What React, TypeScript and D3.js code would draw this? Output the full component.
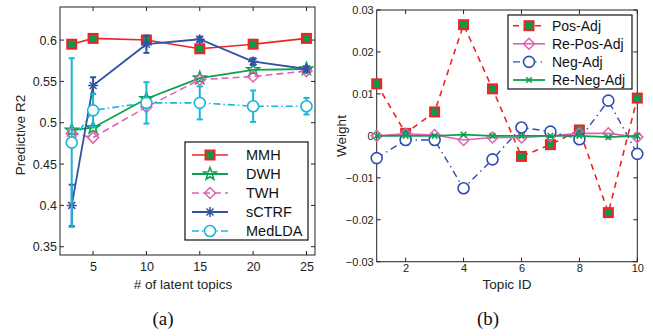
import { useEffect, useRef } from "react";
import * as d3 from "d3";

// (a) predictive R2 vs number of latent topics
const numTopics = [3, 5, 10, 15, 20, 25];
const mmhR2 = [0.595, 0.602, 0.6, 0.5895, 0.595, 0.602];
const dwhR2 = [0.491, 0.494, 0.529, 0.554, 0.564, 0.565];
const twhR2 = [0.487, 0.482, 0.519, 0.552, 0.556, 0.5625];
const sctrfR2 = [0.4, 0.545, 0.595, 0.601, 0.574, 0.565];
const sctrfErr = [0.025, 0.01, 0.0105, 0.003, 0.004, 0.003];
const medldaR2 = [0.476, 0.515, 0.524, 0.524, 0.52, 0.52];
const medldaErr = [0.102, 0.02, 0.025, 0.02, 0.019, 0.01];
const leftXTicks = [5, 10, 15, 20, 25];
const leftYTicks = [0.35, 0.4, 0.45, 0.5, 0.55, 0.6];

// (b) weights per topic
const topicIds = [1, 2, 3, 4, 5, 6, 7, 8, 9, 10];
const posAdj = [0.0124, 0.0006, 0.0057, 0.0265, 0.0112, -0.0049, -0.0021, 0.0014, -0.0183, 0.009];
const rePosAdj = [0, 0.0005, 0.0002, -0.001, -0.0004, -0.0004, 0, 0.0006, 0.0006, -0.0003];
const negAdj = [-0.0053, -0.001, -0.001, -0.0125, -0.0056, 0.002, 0.001, -0.0008, 0.0084, -0.0043];
const reNegAdj = [0, 0, 0, 0.0003, 0, 0, 0, 0, -0.0003, 0];
const rightXTicks = [2, 4, 6, 8, 10];
const rightYTicks = [-0.03, -0.02, -0.01, 0, 0.01, 0.02, 0.03];

const RED = "#ee2424";
const GREENFILL = "#0b9a4c";
const GREEN = "#0aa24c";
const PINK = "#e060b4";
const BLUE = "#3452a4";
const CYAN = "#1ab6d8";
const NAVY = "#2f4fb0";
const FONT = "'Liberation Sans', Arial, Helvetica, sans-serif";

const starPath = (r) => {
  const pts = [];
  for (let i = 0; i < 10; i++) {
    const a = -Math.PI / 2 + (i * Math.PI) / 5;
    const rr = i % 2 === 0 ? r : r * 0.42;
    pts.push([rr * Math.cos(a), rr * Math.sin(a)]);
  }
  return "M" + pts.map((p) => p.join(",")).join("L") + "Z";
};

const asteriskPath = (r) => {
  const d = r * 0.7;
  return `M${-r},0L${r},0M0,${-r}L0,${r}M${-d},${-d}L${d},${d}M${-d},${d}L${d},${-d}`;
};

const crossPath = (r) => `M${-r},${-r}L${r},${r}M${-r},${r}L${r},${-r}`;

function marker(g, type, x, y, color) {
  if (type === "square") {
    g.append("rect").attr("x", x - 4.5).attr("y", y - 4.5).attr("width", 9).attr("height", 9)
      .attr("fill", GREENFILL).attr("stroke", color).attr("stroke-width", 2);
  } else if (type === "star") {
    g.append("path").attr("d", starPath(6.5)).attr("transform", `translate(${x},${y})`)
      .attr("fill", "none").attr("stroke", color).attr("stroke-width", 1.6);
  } else if (type === "diamond") {
    g.append("path").attr("d", "M0,-5.5L5.5,0L0,5.5L-5.5,0Z").attr("transform", `translate(${x},${y})`)
      .attr("fill", "none").attr("stroke", color).attr("stroke-width", 1.5);
  } else if (type === "asterisk") {
    g.append("path").attr("d", asteriskPath(5)).attr("transform", `translate(${x},${y})`)
      .attr("fill", "none").attr("stroke", color).attr("stroke-width", 1.5);
  } else if (type === "circle") {
    g.append("circle").attr("cx", x).attr("cy", y).attr("r", 5.5)
      .attr("fill", "white").attr("stroke", color).attr("stroke-width", 1.6);
  } else if (type === "cross") {
    g.append("path").attr("d", crossPath(2.8)).attr("transform", `translate(${x},${y})`)
      .attr("fill", "none").attr("stroke", color).attr("stroke-width", 1.6);
  }
}

function frame(svg, x, y, xTicks, yTicks, yFmt, xPad) {
  const [x0, x1] = x.range();
  const [y0, y1] = y.range();
  const g = svg.append("g");
  g.append("rect").attr("x", x0).attr("y", y1).attr("width", x1 - x0).attr("height", y0 - y1)
    .attr("fill", "none").attr("stroke", "#222").attr("stroke-width", 1);
  xTicks.forEach((t) => {
    g.append("line").attr("x1", x(t)).attr("x2", x(t)).attr("y1", y0).attr("y2", y0 - 4).attr("stroke", "#222");
    g.append("line").attr("x1", x(t)).attr("x2", x(t)).attr("y1", y1).attr("y2", y1 + 4).attr("stroke", "#222");
  });
  yTicks.forEach((t) => {
    g.append("line").attr("x1", x0).attr("x2", x0 + 4).attr("y1", y(t)).attr("y2", y(t)).attr("stroke", "#222");
    g.append("line").attr("x1", x1).attr("x2", x1 - 4).attr("y1", y(t)).attr("y2", y(t)).attr("stroke", "#222");
  });
  const bottom = svg.append("g").attr("transform", `translate(0,${y0})`)
    .call(d3.axisBottom(x).tickValues(xTicks).tickSize(0).tickPadding(xPad).tickFormat(d3.format("d")));
  const left = svg.append("g").attr("transform", `translate(${x0},0)`)
    .call(d3.axisLeft(y).tickValues(yTicks).tickSize(0).tickPadding(3).tickFormat(yFmt));
  [bottom, left].forEach((a) => {
    a.select(".domain").remove();
    a.selectAll("text").attr("font-family", FONT).attr("fill", "#222");
  });
  return { bottom, left };
}

function series(svg, x, y, xs, ys, color, dash, width) {
  const line = d3.line().x((d) => x(d[0])).y((d) => y(d[1]));
  svg.append("path").attr("d", line(xs.map((v, i) => [v, ys[i]])))
    .attr("fill", "none").attr("stroke", color).attr("stroke-width", width)
    .attr("stroke-dasharray", dash);
}

function errorBars(svg, x, y, xs, ys, es, color) {
  xs.forEach((v, i) => {
    const cx = x(v);
    const lo = y(ys[i] - es[i]);
    const hi = y(ys[i] + es[i]);
    svg.append("line").attr("x1", cx).attr("x2", cx).attr("y1", lo).attr("y2", hi)
      .attr("stroke", color).attr("stroke-width", 2);
    [lo, hi].forEach((yy) => {
      svg.append("line").attr("x1", cx - 3).attr("x2", cx + 3).attr("y1", yy).attr("y2", yy)
        .attr("stroke", color).attr("stroke-width", 2);
    });
  });
}

function legend(svg, box, rows, fontSize) {
  svg.append("rect").attr("x", box.x).attr("y", box.y).attr("width", box.w).attr("height", box.h)
    .attr("fill", "white").attr("stroke", "#111").attr("stroke-width", 1.2);
  rows.forEach((r, i) => {
    const yy = box.y + box.first + i * box.step;
    svg.append("line").attr("x1", box.x + box.lx0).attr("x2", box.x + box.lx1).attr("y1", yy).attr("y2", yy)
      .attr("stroke", r.color).attr("stroke-width", r.width).attr("stroke-dasharray", r.dash);
    marker(svg, r.marker, box.x + (box.lx0 + box.lx1) / 2, yy, r.color);
    svg.append("text").attr("x", box.x + box.tx).attr("y", yy + fontSize * 0.36)
      .attr("font-family", FONT).attr("font-size", fontSize).attr("fill", "#111").text(r.name);
  });
}

const App = () => {
  const svgRef = useRef(null);

  useEffect(() => {
    const svg = d3.select(svgRef.current);
    svg.selectAll("*").remove();

    // ---------- (a) ----------
    const xa = d3.scaleLinear().domain([1.9, 25.8]).range([60, 315]);
    const ya = d3.scaleLinear().domain([0.34, 0.64]).range([255, 7]);
    const fa = frame(svg, xa, ya, leftXTicks, leftYTicks, d3.format(""), 7);
    fa.bottom.selectAll("text").attr("font-size", 12.5);
    fa.left.selectAll("text").attr("font-size", 12.5);

    const ga = svg.append("g");
    const defs = [
      { name: "MMH", ys: mmhR2, color: RED, dash: null, width: 1.6, marker: "square" },
      { name: "DWH", ys: dwhR2, color: GREEN, dash: null, width: 1.8, marker: "star" },
      { name: "TWH", ys: twhR2, color: PINK, dash: "7,4", width: 1.6, marker: "diamond" },
      { name: "sCTRF", ys: sctrfR2, color: BLUE, dash: null, width: 1.8, marker: "asterisk" },
      { name: "MedLDA", ys: medldaR2, color: CYAN, dash: "7,3,1.5,3", width: 1.6, marker: "circle" },
    ];
    defs.forEach((s) => {
      series(ga, xa, ya, numTopics, s.ys, s.color, s.dash, s.width);
      if (s.name === "sCTRF") errorBars(ga, xa, ya, numTopics, sctrfR2, sctrfErr, BLUE);
      if (s.name === "MedLDA") errorBars(ga, xa, ya, numTopics, medldaR2, medldaErr, CYAN);
      numTopics.forEach((t, i) => marker(ga, s.marker, xa(t), ya(s.ys[i]), s.color));
    });

    legend(svg, { x: 185, y: 142, w: 123, h: 98, first: 13, step: 19, lx0: 7, lx1: 43, tx: 61 }, defs, 14.5);

    svg.append("text").attr("x", 183).attr("y", 289).attr("text-anchor", "middle")
      .attr("font-family", FONT).attr("font-size", 13.5).attr("fill", "#222").text("# of latent topics");
    svg.append("text").attr("transform", "translate(25,135) rotate(-90)").attr("text-anchor", "middle")
      .attr("font-family", FONT).attr("font-size", 13.5).attr("fill", "#222").text("Predictive R2");

    // ---------- (b) ----------
    const xb = d3.scaleLinear().domain([1, 10]).range([376.7, 637.3]);
    const yb = d3.scaleLinear().domain([-0.03, 0.03]).range([261.7, 10]);
    const fb = frame(svg, xb, yb, rightXTicks, rightYTicks, (d) => d3.format("")(d), 3);
    fb.bottom.selectAll("text").attr("font-size", 11);
    fb.left.selectAll("text").attr("font-size", 11);

    const gb = svg.append("g");
    const defsB = [
      { name: "Pos-Adj", ys: posAdj, color: RED, dash: "6,5", width: 1.6, marker: "square" },
      { name: "Re-Pos-Adj", ys: rePosAdj, color: PINK, dash: null, width: 1.6, marker: "diamond" },
      { name: "Neg-Adj", ys: negAdj, color: NAVY, dash: "7,4,1.5,4", width: 1.4, marker: "circle" },
      { name: "Re-Neg-Adj", ys: reNegAdj, color: GREEN, dash: null, width: 1.8, marker: "cross" },
    ];
    defsB.forEach((s) => {
      series(gb, xb, yb, topicIds, s.ys, s.color, s.dash, s.width);
      topicIds.forEach((t, i) => marker(gb, s.marker, xb(t), yb(s.ys[i]), s.color));
    });

    legend(svg, { x: 508, y: 15, w: 124, h: 74, first: 10.7, step: 18.1, lx0: 5, lx1: 37, tx: 44 }, defsB, 14);

    svg.append("text").attr("x", 507).attr("y", 289).attr("text-anchor", "middle")
      .attr("font-family", FONT).attr("font-size", 13.5).attr("fill", "#222").text("Topic ID");
    svg.append("text").attr("transform", "translate(346,136) rotate(-90)").attr("text-anchor", "middle")
      .attr("font-family", FONT).attr("font-size", 13.5).attr("fill", "#222").text("Weight");

    // captions
    svg.append("text").attr("x", 163).attr("y", 325).attr("text-anchor", "middle")
      .attr("font-family", "'Liberation Serif', serif").attr("font-size", 19).attr("fill", "#111").text("(a)");
    svg.append("text").attr("x", 488).attr("y", 325).attr("text-anchor", "middle")
      .attr("font-family", "'Liberation Serif', serif").attr("font-size", 19).attr("fill", "#111").text("(b)");
  }, []);

  return (
    <svg ref={svgRef} width={653} height={336}
      style={{ position: "absolute", left: 0, top: 0, background: "white" }} />
  );
};

export default App;
